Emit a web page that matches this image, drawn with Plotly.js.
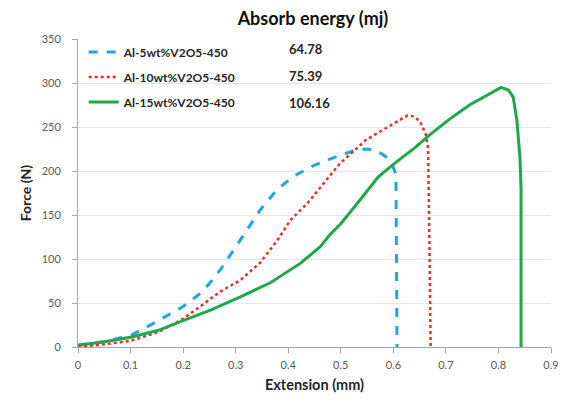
<!DOCTYPE html>
<html>
<head>
<meta charset="utf-8">
<script src="https://cdn.plot.ly/plotly-3.0.1.min.js"></script>
<style>html,body{margin:0;padding:0;background:#fff;}#chart{width:569px;height:403px;}</style>
</head>
<body>
<div id="chart"></div>
<script>
// Series names and absorbed energy values
const seriesNames = ["Al-5wt%V2O5-450", "Al-10wt%V2O5-450", "Al-15wt%V2O5-450"];
const absorbEnergy = ["64.78", "75.39", "106.16"];

// Al-5wt%V2O5-450 (blue dashed)
const ext5 = [0, 0.05, 0.1, 0.15, 0.2, 0.233, 0.25, 0.271, 0.296, 0.321, 0.347, 0.379, 0.41, 0.448, 0.486, 0.524, 0.547, 0.566, 0.584, 0.597, 0.605, 0.606, 0.607];
const force5 = [2, 6, 13, 29, 46, 61, 72, 88, 110, 133, 156, 179, 194, 206, 215, 223, 225, 224, 217, 209, 196, 100, 0];

// Al-10wt%V2O5-450 (red dotted)
const ext10 = [0, 0.05, 0.1, 0.153, 0.2, 0.235, 0.271, 0.309, 0.347, 0.379, 0.404, 0.436, 0.468, 0.499, 0.531, 0.547, 0.584, 0.609, 0.627, 0.64, 0.652, 0.662, 0.666, 0.668, 0.67, 0.671];
const force10 = [0, 3, 7, 17, 32, 47, 63, 76, 96, 121, 144, 163, 187, 209, 226, 235, 248, 257, 263, 262, 255, 241, 226, 150, 60, 0];

// Al-15wt%V2O5-450 (green solid)
const ext15 = [0, 0.05, 0.1, 0.153, 0.2, 0.252, 0.309, 0.366, 0.423, 0.461, 0.48, 0.5, 0.534, 0.571, 0.603, 0.64, 0.671, 0.707, 0.745, 0.782, 0.805, 0.819, 0.828, 0.835, 0.841, 0.843, 0.843];
const force15 = [2, 6, 11, 19, 30, 42, 57, 73, 95, 114, 128, 140, 165, 193, 209, 226, 242, 259, 275, 287, 295, 292, 284, 258, 215, 180, 0];

const xTicks = [0, 0.1, 0.2, 0.3, 0.4, 0.5, 0.6, 0.7, 0.8, 0.9];
const yTicks = [0, 50, 100, 150, 200, 250, 300, 350];

const FONT = "Lato, 'Open Sans', sans-serif";

const traces = [
  {x: ext5, y: force5, name: seriesNames[0], mode: "lines", legendgroup: "a",
   line: {color: "#1fa6e6", width: 3, dash: "9px,9px"}},
  {x: ext10, y: force10, name: seriesNames[1], mode: "lines", legendgroup: "b",
   line: {color: "#f22a2a", width: 2.5, dash: "dot"}},
  {x: ext15, y: force15, name: seriesNames[2], mode: "lines", legendgroup: "c",
   line: {color: "#1fa84a", width: 3}}
];

const legendY = [0.968, 0.881, 0.793];
const annotations = absorbEnergy.map((v, i) => ({
  text: v, xref: "paper", yref: "paper", x: 0.442, y: legendY[i],
  xanchor: "left", yanchor: "middle", showarrow: false,
  font: {family: FONT, size: 13, color: "#262626", weight: "bold"}
}));

const layout = {
  width: 569, height: 403,
  margin: {l: 78, r: 18, t: 39, b: 56},
  paper_bgcolor: "#ffffff", plot_bgcolor: "#ffffff",
  font: {family: FONT, color: "#595959", size: 11},
  title: {text: "Absorb energy (mj)", x: 0.55, xanchor: "center", y: 0.953, yanchor: "middle",
          font: {family: FONT, size: 18, color: "#111111", weight: "bold"}},
  xaxis: {
    range: [0, 0.9], tickvals: xTicks, ticktext: xTicks.map(String),
    showgrid: false, zeroline: false, showline: true, linecolor: "#a6a6a6", linewidth: 1,
    ticks: "outside", ticklen: 5, tickcolor: "#a6a6a6", ticklabelstandoff: 3,
    tickfont: {family: FONT, size: 11, color: "#595959"},
    title: {text: "Extension (mm)", standoff: 9, font: {family: FONT, size: 14.5, color: "#262626", weight: "bold"}}
  },
  yaxis: {
    range: [0, 350], tickvals: yTicks, ticktext: yTicks.map(String),
    showgrid: true, gridcolor: "#e3e6ee", gridwidth: 1, zeroline: false,
    showline: true, linecolor: "#a6a6a6", linewidth: 1,
    ticks: "outside", ticklen: 5, tickcolor: "#a6a6a6", ticklabelstandoff: 9,
    tickfont: {family: FONT, size: 11, color: "#595959"},
    title: {text: "Force (N)", standoff: 6, font: {family: FONT, size: 14, color: "#262626", weight: "bold"}}
  },
  showlegend: true,
  legend: {x: 0.012, y: 1.005, xanchor: "left", yanchor: "top", bgcolor: "rgba(0,0,0,0)",
           tracegroupgap: 6, itemwidth: 30,
           font: {family: FONT, size: 12, color: "#262626", weight: "bold"}},
  annotations: annotations
};

Plotly.newPlot("chart", traces, layout, {displayModeBar: false, staticPlot: true});
</script>
</body>
</html>
